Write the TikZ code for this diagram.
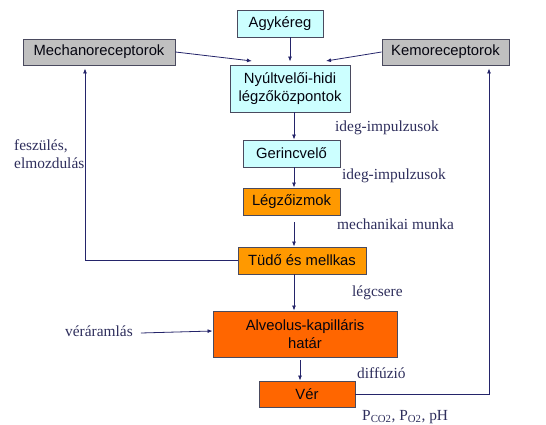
\documentclass[tikz,border=0pt]{standalone}
\usepackage{fontspec}
\setmainfont{Liberation Serif}
\setsansfont{Liberation Sans}
\usetikzlibrary{arrows.meta,positioning,calc}
\definecolor{boxcyan}{HTML}{CCFFFF}
\definecolor{boxgray}{HTML}{C0C0C0}
\definecolor{boxorange}{HTML}{FF9900}
\definecolor{boxred}{HTML}{FF6600}
\definecolor{edgegray}{HTML}{4A4A5E}
\definecolor{navy}{HTML}{24246A}
\definecolor{labelnavy}{HTML}{2E2E5C}

\begin{document}
\begin{tikzpicture}[
    x=1pt, y=-1pt,
    box/.style={rectangle, draw=edgegray, line width=0.9pt, inner sep=0pt, align=center, font=\sffamily\fontsize{14.8}{18}\selectfont, text=black!85!navy},
    lbl/.style={anchor=west, inner sep=0pt, font=\fontsize{15.4}{18}\selectfont, text=labelnavy},
    arrow/.style={-{Latex[length=5pt,width=4pt]}, line width=0.8pt, draw=navy}
]
    \useasboundingbox (0,0) rectangle (546,425);
    % Top row
    \node[box, fill=boxcyan, minimum width=86pt, minimum height=27pt] (agy) at (280,23.5) {Agykéreg};
    \node[box, fill=boxgray, minimum width=152pt, minimum height=26pt] (mech) at (99,52) {Mechanoreceptorok};
    \node[box, fill=boxgray, minimum width=127pt, minimum height=26pt] (kemo) at (445.5,52) {Kemoreceptorok};
    % Center column
    \node[box, fill=boxcyan, minimum width=120pt, minimum height=47pt] (nyult) at (290,88.5) {Nyúltvelői-hidi\\légzőközpontok};
    \node[box, fill=boxcyan, minimum width=97pt, minimum height=27pt] (gerinc) at (291.5,153.5) {Gerincvelő};
    \node[box, fill=boxorange, minimum width=97pt, minimum height=27pt] (izom) at (291.5,201.5) {Légzőizmok};
    \node[box, fill=boxorange, minimum width=128pt, minimum height=27pt] (tudo) at (302,260.5) {Tüdő és mellkas};
    \node[box, fill=boxred, minimum width=184pt, minimum height=46pt] (alv) at (305,334) {Alveolus-kapilláris\\határ};
    \node[box, fill=boxred, minimum width=96pt, minimum height=26pt] (ver) at (307,394) {Vér};

    % Labels
    \node[lbl] (ideg1) at (335,128) {ideg-impulzusok};
    \node[lbl] (ideg2) at (342,176) {ideg-impulzusok};
    \node[lbl] (munka) at (337,224) {mechanikai munka};
    \node[lbl] (csere) at (352,293) {légcsere};
    \node[lbl] (diff) at (357,373) {diffúzió};
    \node[lbl] (gaz) at (362,417) {P\textsubscript{CO2}, P\textsubscript{O2}, pH};
    \node[lbl, align=left] (fesz) at (14,154) {feszülés,\\elmozdulás};
    \node[lbl] (vera) at (65,331) {véráramlás};

    % Helper points
    \coordinate (mechin) at (252,61);
    \coordinate (kemoin) at (326,61);
    \coordinate (axis) at (294,0);
    \coordinate (mechup) at (85,0);
    \coordinate (kemoup) at (489,0);

    % Arrows
    \draw[arrow] (nyult.north |- agy.south) -- ($(nyult.north)+(0,-3)$);
    \draw[arrow] (mech.east) -- (mechin);
    \draw[arrow] (kemo.west) -- (kemoin);
    \draw[arrow] (axis |- nyult.south) -- (axis |- gerinc.north);
    \draw[arrow] (axis |- gerinc.south) -- (axis |- izom.north);
    \draw[arrow] ($(axis |- izom.south)+(0,7)$) -- (axis |- tudo.north);
    \draw[arrow] (axis |- tudo.south) -- (axis |- alv.north);
    \draw[arrow] ($(alv.south)+(-5,3)$) -- ($(ver.north)+(-7,0)$);
    \draw[arrow] ($(vera.east)+(8,2)$) -- (vera.east -| alv.west);
    % Feedback loops
    \draw[arrow] (tudo.west) -| ($(mechup |- mech.south)+(0,3)$);
    \draw[arrow] (ver.east) -| ($(kemoup |- kemo.south)+(0,3)$);
\end{tikzpicture}
\end{document}
